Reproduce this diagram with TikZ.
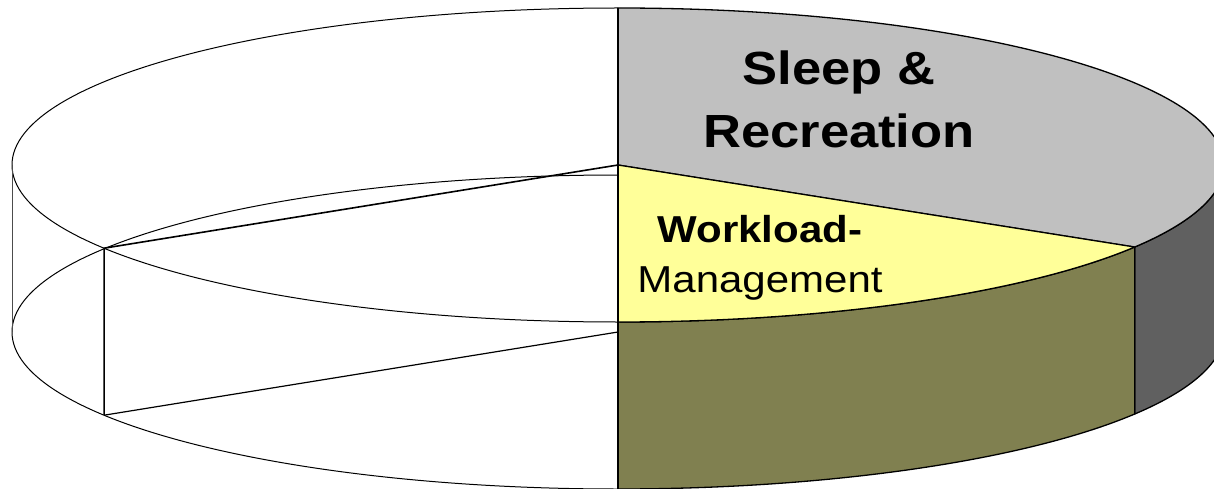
\documentclass[tikz,border=0pt]{standalone}
\usepackage{fontspec}
\setmainfont{Liberation Sans}
\usepackage{graphicx}
\definecolor{sleeptop}{HTML}{C0C0C0}
\definecolor{sleepside}{HTML}{606060}
\definecolor{worktop}{HTML}{FFFF99}
\definecolor{workside}{HTML}{808050}
\begin{document}
\begin{tikzpicture}[x=1pt,y=1pt,line join=round,
  rim/.style={draw=black,line width=1.3pt},
  ghost/.style={draw=black,line width=1pt},
  spoke/.style={draw=black,line width=1.6pt},
  bigtext/.style={inner sep=0pt,anchor=base,font=\fontsize{46.5}{50}\selectfont\bfseries},
  smalltext/.style={inner sep=0pt,anchor=base,font=\fontsize{37.5}{42}\selectfont}]
\useasboundingbox (0,0) rectangle (1214,488);
\clip (0,0) rectangle (1214,488);
% centres of the top and bottom discs (radii 606 x 157, depth 167)
\coordinate (T) at (618,323);
\coordinate (B) at (618,156);
\path (T) ++(-31.5:606pt and 157pt) coordinate (g1);
\path (B) ++(-31.5:606pt and 157pt) coordinate (g1b);
\path (T) ++(212:606pt and 157pt) coordinate (w1);
\path (B) ++(212:606pt and 157pt) coordinate (w1b);
\path (T) ++(0:606pt and 157pt) coordinate (e0);
\path (T) ++(90:606pt and 157pt) coordinate (tt);
\path (B) ++(-90:606pt and 157pt) coordinate (bb);
\path (T) ++(180:606pt and 157pt) coordinate (lt);

% transparent slices: outlines only
\draw[ghost] (tt) arc[start angle=90,end angle=270,x radius=606,y radius=157];
\draw[ghost] (B) ++(0,157) arc[start angle=90,end angle=270,x radius=606,y radius=157];
\draw[draw=black!70,line width=0.9pt] (lt) -- ++(0,-167);
\draw[spoke] (T) -- (w1) -- (w1b);
\draw[ghost,line width=1.2pt] (B) -- (w1b);

% Sleep & Recreation slice
\filldraw[fill=sleepside,rim] (e0) arc[start angle=0,end angle=-31.5,x radius=606,y radius=157]
  -- (g1b) arc[start angle=-31.5,end angle=0,x radius=606,y radius=157] -- cycle;
\filldraw[fill=sleeptop,rim] (T) -- (tt) arc[start angle=90,end angle=-31.5,x radius=606,y radius=157] -- cycle;

% Workload-Management slice
\filldraw[fill=workside,rim] (g1) arc[start angle=-31.5,end angle=-90,x radius=606,y radius=157]
  -- (bb) arc[start angle=-90,end angle=-31.5,x radius=606,y radius=157] -- cycle;
\filldraw[fill=worktop,rim] (T) -- (g1) arc[start angle=-31.5,end angle=-90,x radius=606,y radius=157] -- cycle;

% front edge along the centre line
\draw[line width=2pt] (tt) -- (bb);

% labels
\node[bigtext] (sleepA) at (839,403) {\scalebox{1.13}[1]{Sleep \&}};
\node[bigtext] (sleepB) at (839,340) {\scalebox{1.13}[1]{Recreation}};
\node[smalltext,font=\fontsize{37.5}{42}\selectfont\bfseries] (workA) at (760,246) {\scalebox{1.12}[1]{Workload-}};
\node[smalltext] (workB) at (760,196) {\scalebox{1.12}[1]{Management}};
\end{tikzpicture}
\end{document}
